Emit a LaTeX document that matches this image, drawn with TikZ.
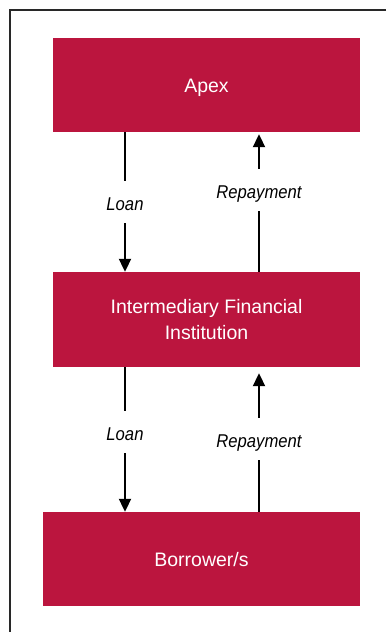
\documentclass[tikz,border=0pt]{standalone}
\usepackage{fontspec}
\setmainfont{Liberation Sans}
\newfontfamily\labelfont[FakeStretch=0.9]{Liberation Sans}
\usetikzlibrary{arrows.meta}
\definecolor{boxred}{RGB}{187,21,62}
\definecolor{framegray}{RGB}{40,40,40}

\begin{document}
\begin{tikzpicture}[x=1pt,y=-1pt,
        box/.style={fill=boxred,text=white,align=center,inner sep=0pt,
            font=\fontsize{19.5}{26.7}\selectfont},
        oneline/.style={text height=14pt,text depth=0pt},
        flowlabel/.style={font=\labelfont\fontsize{18.5}{20}\selectfont\itshape,inner sep=0pt,
            minimum height=42pt,text height=16pt,text depth=0pt},
        flow/.style={black,line width=2pt},
        tip/.style={-{Triangle[width=12pt,length=13pt]}}]
        \useasboundingbox (0,0) rectangle (386,632);

        % Frame
        \draw[framegray,line width=2pt] (386,10) -- (10,10) -- (10,632);

        % Boxes
        \node[box,oneline,minimum width=307pt,minimum height=94pt] (Apex) at (206.5,85) {Apex};
        \node[box,minimum width=307pt,minimum height=95pt] (IFI) at (206.5,319.5) {Intermediary Financial\\Institution};
        \node[box,oneline,minimum width=317pt,minimum height=94pt] (Borrower) at (201.5,559) {Borrower/s};

        % Labels
        \node[flowlabel] (L1) at (125,202) {Loan};
        \node[flowlabel] (R1) at (259,190) {Repayment};
        \node[flowlabel] (L2) at (125,432) {Loan};
        \node[flowlabel] (R2) at (259,439) {Repayment};

        % Draw loan arrows
        \draw[flow] (Apex.south -| L1) -- (L1);
        \draw[flow,tip] (L1) -- (IFI.north -| L1);
        \draw[flow] (IFI.south -| L2) -- (L2);
        \draw[flow,tip] (L2) -- (Borrower.north -| L2);

        % Draw repayment arrows
        \draw[flow] (IFI.north -| R1) -- (R1);
        \draw[flow,tip] (R1) -- ([yshift=-2pt]Apex.south -| R1);
        \draw[flow] (Borrower.north -| R2) -- (R2);
        \draw[flow,tip] (R2) -- ([yshift=-6pt]IFI.south -| R2);
    \end{tikzpicture}
\end{document}
